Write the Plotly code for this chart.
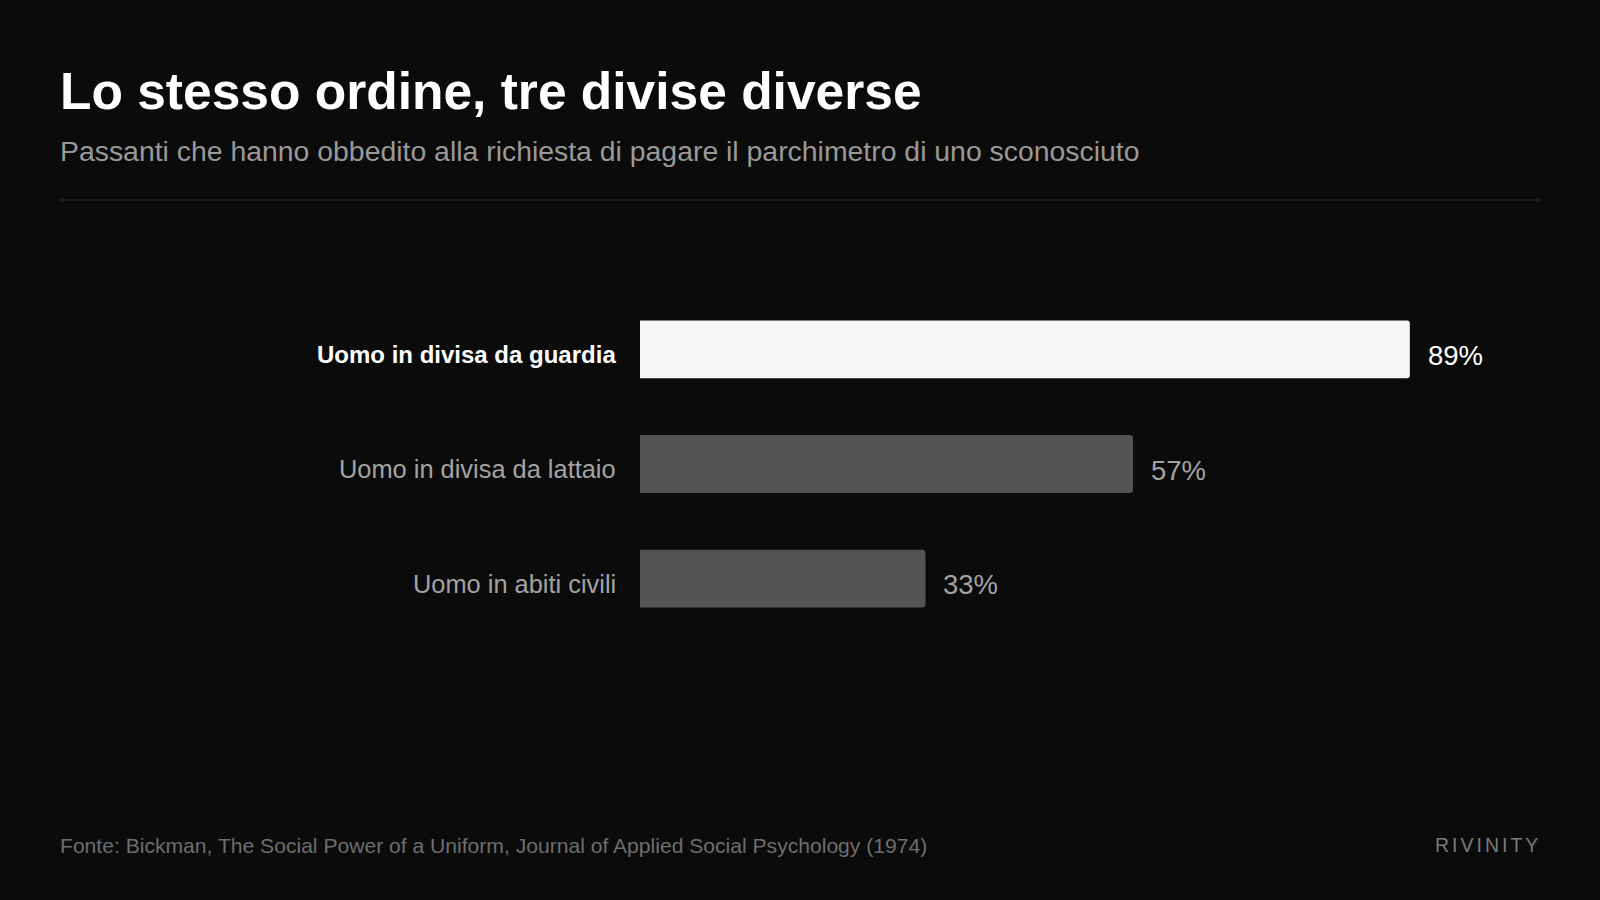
import plotly.graph_objects as go

categories = ["Uomo in divisa da guardia", "Uomo in divisa da lattaio", "Uomo in abiti civili"]
values = [89, 57, 33]
value_labels = ["89%", "57%", "33%"]
bar_colors = ["#f5f5f5", "#545454", "#545454"]
label_colors = ["#ffffff", "#a3a3a3", "#a3a3a3"]
label_weights = [600, 400, 400]
label_sizes = [24, 25.4, 25.4]

title = "Lo stesso ordine, tre divise diverse"
subtitle = "Passanti che hanno obbedito alla richiesta di pagare il parchimetro di uno sconosciuto"
source = "Fonte: Bickman, The Social Power of a Uniform, Journal of Applied Social Psychology (1974)"
brand = "RIVINITY"

FONT = "Helvetica Neue, Helvetica, Arial, Liberation Sans, sans-serif"
W, H = 1600, 900
ML, MR, MT, MB = 640, 95, 292, 264
PW = W - ML - MR
PH = H - MT - MB


def px_x(px):
    return (px - ML) / PW


def px_y(py):
    return (H - MB - py) / PH


fig = go.Figure()
fig.add_trace(go.Bar(
    x=values, y=categories, orientation="h",
    marker=dict(color=bar_colors, cornerradius=3, line=dict(width=0)),
    hoverinfo="skip",
))

annotations = []
for cat, v, lab, col, wt, sz in zip(categories, values, value_labels, label_colors, label_weights, label_sizes):
    annotations.append(dict(
        x=0, y=cat, xref="x", yref="y", text=cat, showarrow=False,
        xanchor="right", yanchor="middle", xshift=-22, yshift=-5,
        font=dict(family=FONT, size=sz, color=col, weight=wt),
    ))
    annotations.append(dict(
        x=v, y=cat, xref="x", yref="y", text=lab, showarrow=False,
        xanchor="left", yanchor="middle", xshift=16, yshift=-6,
        font=dict(family=FONT, size=27.5, color=col, weight=400),
    ))

annotations += [
    dict(x=px_x(58), y=px_y(91), xref="paper", yref="paper", text=title, showarrow=False,
         xanchor="left", yanchor="middle",
         font=dict(family=FONT, size=51.5, color="#ffffff", weight=700)),
    dict(x=px_x(58), y=px_y(151), xref="paper", yref="paper", text=subtitle, showarrow=False,
         xanchor="left", yanchor="middle",
         font=dict(family=FONT, size=28.4, color="#999999")),
    dict(x=px_x(58), y=px_y(845), xref="paper", yref="paper", text=source, showarrow=False,
         xanchor="left", yanchor="middle",
         font=dict(family=FONT, size=21.1, color="#6e6e6e")),
    dict(x=px_x(1543), y=px_y(845), xref="paper", yref="paper",
         text='<span style="letter-spacing:3px">' + brand + '</span>', showarrow=False,
         xanchor="right", yanchor="middle",
         font=dict(family=FONT, size=19.5, color="#7a7a7a")),
]

fig.update_layout(
    width=W, height=H,
    paper_bgcolor="#0b0b0b", plot_bgcolor="#0b0b0b",
    margin=dict(l=ML, r=MR, t=MT, b=MB),
    showlegend=False,
    bargap=0.496,
    xaxis=dict(range=[0, 100], visible=False, fixedrange=True),
    yaxis=dict(categoryorder="array", categoryarray=categories, autorange="reversed",
               visible=False, fixedrange=True),
    annotations=annotations,
    shapes=[dict(type="line", xref="paper", yref="paper",
                 x0=px_x(60), x1=px_x(1540), y0=px_y(200), y1=px_y(200),
                 line=dict(color="#222222", width=1.5))],
)

fig.write_html(
    "out.html",
    config={"displayModeBar": False},
    post_script="document.body.style.margin='0';document.body.style.background='#0b0b0b';",
)
